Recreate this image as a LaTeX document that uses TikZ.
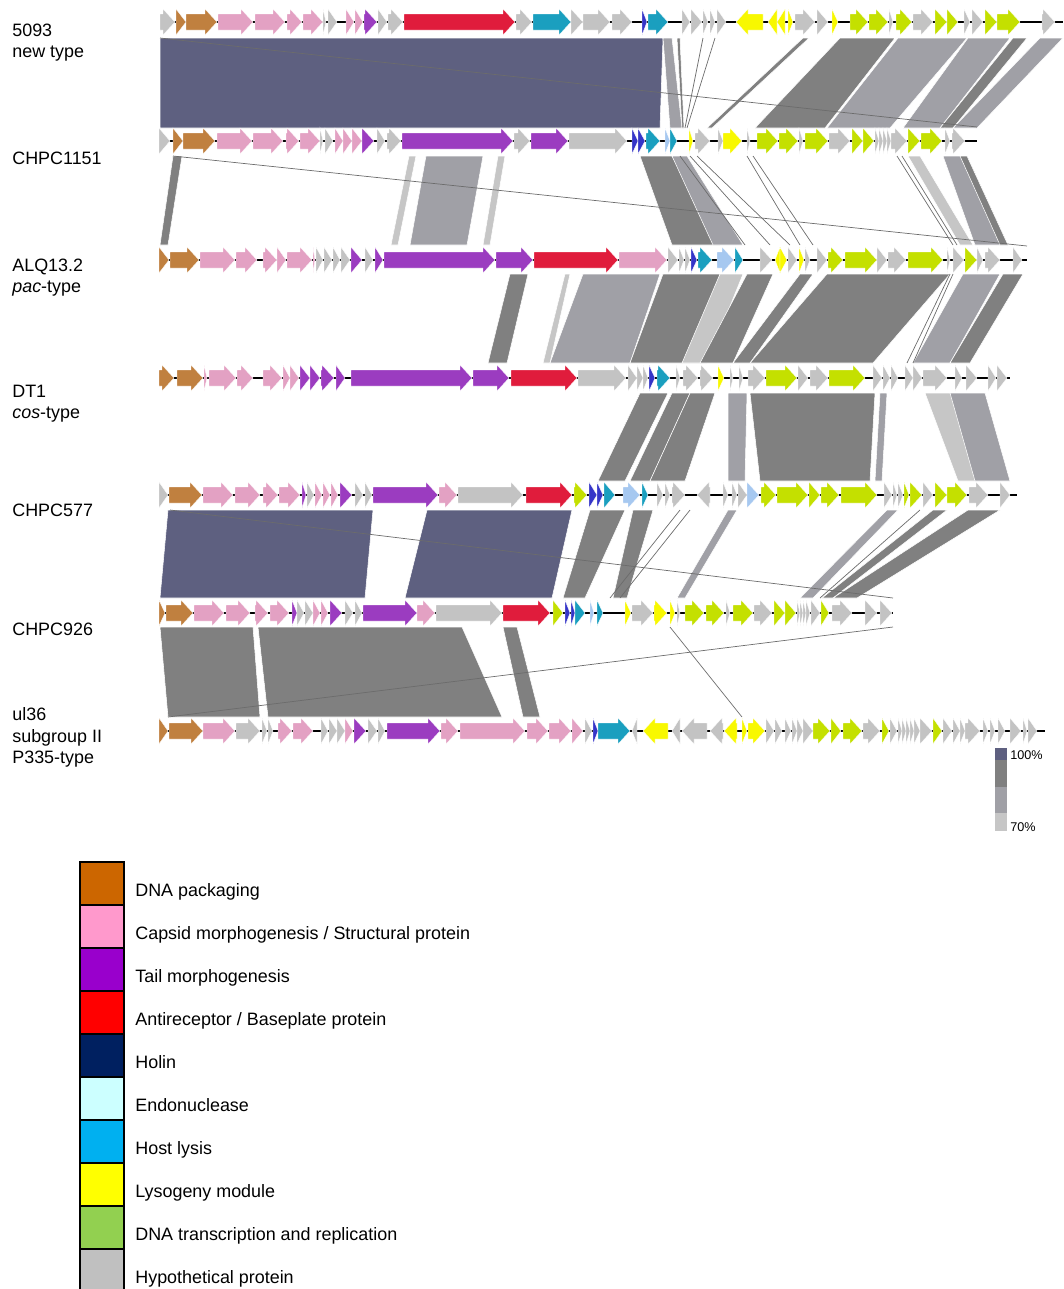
\documentclass[tikz,border=0pt]{standalone}
\usepackage{fontspec}
\setmainfont{Liberation Sans}
\definecolor{pkg}{HTML}{C0803F}
\definecolor{cap}{HTML}{E3A1C3}
\definecolor{tail}{HTML}{9B3CC0}
\definecolor{anti}{HTML}{E01C3C}
\definecolor{hol}{HTML}{3535C8}
\definecolor{endo}{HTML}{A6C8F0}
\definecolor{lys}{HTML}{1A9FBF}
\definecolor{lyso}{HTML}{F8F800}
\definecolor{rep}{HTML}{C4E000}
\definecolor{hyp}{HTML}{C3C3C3}
\definecolor{s100}{HTML}{5E6080}
\definecolor{s90}{HTML}{808080}
\definecolor{s80}{HTML}{A0A0A6}
\definecolor{s70}{HTML}{C6C6C6}
\definecolor{kpkg}{HTML}{CC6600}
\definecolor{kcap}{HTML}{FF99CC}
\definecolor{ktail}{HTML}{9900CC}
\definecolor{kanti}{HTML}{FF0000}
\definecolor{khol}{HTML}{002060}
\definecolor{kendo}{HTML}{CCFFFF}
\definecolor{klys}{HTML}{00B0F0}
\definecolor{klyso}{HTML}{FFFF00}
\definecolor{krep}{HTML}{92D050}
\definecolor{khyp}{HTML}{C0C0C0}
% gene arrow: from, to, colour, track y
\newcommand{\gene}[4]{%
  \pgfmathsetmacro\gdir{#2>#1 ? 1 : -1}%
  \pgfmathsetmacro\ghd{min(12,abs(#2-#1))}%
  \pgfmathsetmacro\gbase{#2-\gdir*\ghd}%
  \filldraw[gene,fill=#3] (#1,#4-8) -- (\gbase,#4-8) -- (\gbase,#4-13) -- (#2,#4)
    -- (\gbase,#4+13) -- (\gbase,#4+8) -- (#1,#4+8) -- cycle;}
\begin{document}
\begin{tikzpicture}[x=0.02cm,y=-0.02cm,
  gene/.style={draw=white,line width=0.2pt},
  backbone/.style={line width=1.6pt,black},
  band/.style={draw=white,line width=0.3pt},
  simline/.style={draw=gray!85!black,line width=0.4pt},
  lab/.style={anchor=base west,inner sep=0pt,font=\fontsize{10.2}{12}\selectfont},
  keybox/.style={draw=black,line width=0.6pt},
  keytext/.style={anchor=base west,inner sep=0pt,font=\fontsize{10.2}{12}\selectfont},
  pct/.style={anchor=base west,inner sep=0pt,font=\fontsize{7.2}{8}\selectfont}]
  \useasboundingbox (0,0) rectangle (1063,1289);

  % similarity bands
  \foreach \p/\q/\r/\s/\c in {160/663/160/660/s100, 663/672/670/682/s80, 677/680/682/684/s90,
    803/809/707/712/s90, 840/895/755/825/s90, 898/967/827/890/s80, 968/1010/903/940/s80,
    1013/1027/940/953/s90, 1040/1063/953/977/s80}
    \filldraw[band,fill=\c] (\p,38) -- (\q,38) -- (\s,128) -- (\r,128) -- cycle;
  \foreach \p/\q/\r/\s/\c in {173/182/160/168/s90, 409/416/391/398/s70, 426/483/410/467/s80,
    498/505/483/490/s70, 640/672/672/720/s90, 672/687/713/743/s80, 908/920/960/973/s70,
    943/967/975/1008/s80, 960/967/1000/1008/s90}
    \filldraw[band,fill=\c] (\p,156) -- (\q,156) -- (\s,245) -- (\r,245) -- cycle;
  \foreach \p/\q/\r/\s/\c in {510/528/488/507/s90, 565/570/543/550/s70, 583/660/550/630/s80,
    663/720/630/700/s90, 720/743/682/707/s70, 747/773/700/733/s90, 800/813/733/750/s90,
    827/950/750/873/s90, 963/1000/913/950/s80, 1003/1023/950/970/s90}
    \filldraw[band,fill=\c] (\p,274) -- (\q,274) -- (\s,363) -- (\r,363) -- cycle;
  \foreach \p/\q/\r/\s/\c in {640/668/598/625/s90, 672/690/630/650/s90, 690/715/650/685/s90,
    728/747/728/745/s80, 750/875/760/870/s90, 880/887/875/882/s80, 925/955/958/985/s70,
    950/985/975/1010/s80}
    \filldraw[band,fill=\c] (\p,393) -- (\q,393) -- (\s,481) -- (\r,481) -- cycle;
  \foreach \p/\q/\r/\s/\c in {168/373/160/365/s100, 427/572/405/552/s100, 590/625/563/585/s90,
    633/653/613/627/s90, 728/737/677/685/s80, 887/898/800/813/s80, 933/947/822/833/s90,
    968/1000/833/857/s90}
    \filldraw[band,fill=\c] (\p,510) -- (\q,510) -- (\s,598) -- (\r,598) -- cycle;
  \foreach \p/\q/\r/\s/\c in {160/253/168/260/s90, 258/462/268/502/s90, 503/517/523/540/s90}
    \filldraw[band,fill=\c] (\p,627) -- (\q,627) -- (\s,717) -- (\r,717) -- cycle;

  % thin matches
  \draw[simline] (160,38) -- (977,127);
  \draw[simline] (703,38) -- (685,128) (715,38) -- (687,128);
  \draw[simline] (173,156) -- (1027,246);
  \draw[simline] (680,156) -- (745,245) (690,156) -- (770,245) (697,156) -- (790,245);
  \draw[simline] (747,156) -- (800,245) (753,156) -- (813,245);
  \draw[simline] (897,156) -- (953,245) (902,156) -- (957,245);
  \draw[simline] (950,274) -- (907,363) (953,274) -- (913,363);
  \draw[simline] (170,510) -- (893,598);
  \draw[simline] (680,510) -- (610,598) (690,510) -- (620,598) (920,510) -- (820,598);
  \draw[simline] (168,717) -- (893,627);
  \draw[simline] (670,627) -- (742,717);

  % genome backbones
  \foreach \y/\e in {22/1063, 141/977, 260/1027, 378/1010, 495/1017, 613/893, 731/1045}
    \draw[backbone] (160,\y) -- (\e,\y);

  % 5093
  \foreach \a/\b/\c in {160/175/hyp, 176/186/pkg, 186/217/pkg, 218/253/cap, 255/285/cap,
    287/302/cap, 303/323/cap, 323/326/hyp, 328/337/hyp, 346/354/cap, 355/363/cap, 364/377/tail,
    378/387/hyp, 388/403/hyp, 404/515/anti, 516/532/hyp, 533/571/lys, 571/583/hyp, 583/610/hyp,
    612/632/hyp, 642/647/hol, 648/668/lys, 682/690/hyp, 691/702/hyp, 703/708/hyp, 710/715/hyp,
    717/726/hyp, 763/736/lyso, 777/768/lyso, 785/777/lyso, 788/793/lyso, 795/815/hyp,
    817/828/hyp, 832/838/lyso, 850/868/rep, 869/888/rep, 889/893/hyp, 896/912/rep, 913/933/hyp,
    935/947/rep, 947/958/rep, 964/970/hyp, 972/983/hyp, 985/997/rep, 997/1020/rep, 1042/1055/hyp}
    {\gene{\a}{\b}{\c}{22}}
  % CHPC1151
  \foreach \a/\b/\c in {159/170/hyp, 173/183/pkg, 183/215/pkg, 217/252/cap, 253/283/cap,
    286/299/cap, 300/320/cap, 320/323/hyp, 325/333/hyp, 335/343/cap, 343/352/cap, 352/362/cap,
    362/374/tail, 377/385/hyp, 387/401/hyp, 402/513/tail, 514/530/hyp, 531/568/tail, 569/627/hyp,
    632/638/hol, 638/645/hol, 646/660/lys, 665/670/endo, 670/677/lys, 689/693/lyso, 695/710/hyp,
    718/723/hyp, 723/742/lyso, 747/750/hyp, 757/778/rep, 779/798/rep, 799/803/hyp, 805/828/rep,
    829/850/hyp, 852/863/rep, 863/874/rep, 875/879/hyp, 879/883/hyp, 883/887/hyp, 887/891/hyp,
    891/907/hyp, 908/920/rep, 921/942/rep, 945/950/hyp, 952/965/hyp}
    {\gene{\a}{\b}{\c}{141}}
  % ALQ13.2
  \foreach \a/\b/\c in {159/169/pkg, 170/199/pkg, 200/235/cap, 236/257/cap, 263/277/cap,
    277/286/cap, 287/312/cap, 313/315/cap, 316/323/hyp, 324/332/hyp, 333/340/hyp, 341/350/hyp,
    351/362/tail, 365/373/hyp, 375/383/tail, 384/495/tail, 496/533/tail, 534/618/anti,
    619/667/cap, 668/678/hyp, 679/684/hyp, 685/690/hyp, 691/697/hol, 698/712/lys, 717/734/endo,
    735/743/lys, 760/772/hyp, 780/775/lyso, 780/787/lyso, 788/797/hyp, 799/804/lyso, 805/810/hyp,
    817/827/hyp, 828/843/rep, 845/877/rep, 877/887/hyp, 888/906/hyp, 908/943/rep, 947/950/hyp,
    953/964/hyp, 965/977/rep, 977/983/hyp, 985/1000/hyp, 1013/1022/hyp}
    {\gene{\a}{\b}{\c}{260}}
  % DT1
  \foreach \a/\b/\c in {159/174/pkg, 177/203/pkg, 204/207/cap, 209/236/cap, 237/253/cap,
    263/282/cap, 283/290/cap, 290/299/cap, 300/310/tail, 310/320/tail, 321/334/tail, 336/345/tail,
    351/472/tail, 473/509/tail, 511/577/anti, 578/626/hyp, 628/637/hyp, 637/643/hyp, 643/648/hyp,
    649/655/hol, 657/670/lys, 676/680/hyp, 683/698/hyp, 700/713/hyp, 718/724/lyso, 730/733/hyp,
    739/743/hyp, 748/765/hyp, 766/797/rep, 798/808/hyp, 810/828/hyp, 829/865/rep, 873/882/hyp,
    883/890/hyp, 891/898/hyp, 905/913/hyp, 913/922/hyp, 923/947/hyp, 955/962/hyp, 966/977/hyp,
    988/996/hyp, 997/1007/hyp}
    {\gene{\a}{\b}{\c}{378}}
  % CHPC577
  \foreach \a/\b/\c in {159/168/hyp, 169/202/pkg, 203/233/cap, 235/260/cap, 263/278/cap,
    279/300/cap, 302/306/tail, 307/314/hyp, 315/322/cap, 323/330/cap, 331/338/cap, 340/352/tail,
    355/363/hyp, 365/372/hyp, 373/438/tail, 439/457/cap, 458/523/hyp, 526/572/anti, 574/587/rep,
    589/597/hol, 597/603/hol, 604/615/lys, 623/640/endo, 642/648/lys, 657/663/hyp, 665/670/hyp,
    672/685/hyp, 710/697/hyp, 723/728/hyp, 732/737/hyp, 738/747/hyp, 747/759/endo, 761/776/rep,
    777/808/rep, 809/820/rep, 821/839/rep, 841/877/rep, 884/892/hyp, 893/897/hyp, 898/903/hyp,
    904/909/rep, 910/922/rep, 923/933/hyp, 935/947/rep, 947/967/rep, 969/988/hyp, 1000/1010/hyp}
    {\gene{\a}{\b}{\c}{495}}
  % CHPC926
  \foreach \a/\b/\c in {159/165/pkg, 166/193/pkg, 194/224/cap, 226/250/cap, 255/268/cap,
    270/289/cap, 292/297/tail, 297/304/hyp, 305/313/hyp, 313/320/cap, 321/328/cap, 330/342/tail,
    345/353/hyp, 355/362/hyp, 363/417/tail, 417/435/cap, 436/502/hyp, 503/550/anti, 553/563/rep,
    565/570/hol, 571/575/hol, 575/585/lys, 590/594/endo, 597/603/lys, 625/631/lyso, 632/653/hyp,
    654/667/lyso, 670/675/lyso, 677/680/hyp, 685/704/rep, 706/724/rep, 726/730/hyp, 733/753/rep,
    754/772/hyp, 774/785/rep, 785/796/rep, 797/800/hyp, 800/803/hyp, 803/806/hyp, 806/810/hyp,
    811/820/hyp, 821/829/rep, 832/852/hyp, 865/877/hyp, 880/892/hyp}
    {\gene{\a}{\b}{\c}{613}}
  % ul36
  \foreach \a/\b/\c in {159/168/pkg, 169/203/pkg, 203/235/cap, 236/260/hyp, 262/267/hyp,
    268/273/hyp, 278/292/cap, 293/313/cap, 321/328/hyp, 329/337/hyp, 337/345/hyp, 345/353/cap,
    354/366/tail, 368/377/hyp, 378/385/hyp, 387/440/tail, 441/458/cap, 460/525/cap, 527/548/cap,
    549/571/cap, 572/583/cap, 585/592/hyp, 593/598/hol, 598/630/lys, 637/632/hyp, 668/643/lyso,
    680/672/hyp, 707/682/hyp, 723/710/hyp, 737/724/lyso, 742/747/lyso, 748/765/lyso, 766/774/hyp,
    775/782/hyp, 785/791/hyp, 792/797/hyp, 797/803/hyp, 803/813/hyp, 813/830/rep, 831/841/rep,
    843/862/rep, 863/880/hyp, 882/889/rep, 890/897/hyp, 898/902/hyp, 902/906/hyp, 906/910/hyp,
    910/914/hyp, 914/920/hyp, 920/932/hyp, 933/942/rep, 943/952/hyp, 953/960/hyp, 960/965/hyp,
    965/980/hyp, 983/988/hyp, 990/995/hyp, 998/1005/hyp, 1010/1021/hyp, 1023/1027/hyp,
    1028/1037/hyp}
    {\gene{\a}{\b}{\c}{731}}

  % genome names
  \node[lab] (n5093) at (12,36) {5093};
  \node[lab] (t5093) at (12,57) {new type};
  \node[lab] (n1151) at (12,164) {CHPC1151};
  \node[lab] (nalq) at (12,271) {ALQ13.2};
  \node[lab] (talq) at (12,292) {\textit{pac}-type};
  \node[lab] (ndt1) at (12,397) {DT1};
  \node[lab] (tdt1) at (12,418) {\textit{cos}-type};
  \node[lab] (n577) at (12,516) {CHPC577};
  \node[lab] (n926) at (12,635) {CHPC926};
  \node[lab] (nul36) at (12,720) {ul36};
  \node[lab] (gul36) at (12,742) {subgroup II};
  \node[lab] (tul36) at (12,763) {P335-type};

  % identity scale
  \fill[s100] (995,748) rectangle (1007,760);
  \fill[s90] (995,760) rectangle (1007,787);
  \fill[s80] (995,787) rectangle (1007,813);
  \fill[s70] (995,813) rectangle (1007,831);
  \node[pct] (p100) at (1010,759) {100\%};
  \node[pct] (p70) at (1010,831) {70\%};

  % legend
  \foreach \c/\t [count=\i from 0] in {kpkg/{DNA packaging},
    kcap/{Capsid morphogenesis / Structural protein}, ktail/{Tail morphogenesis},
    kanti/{Antireceptor / Baseplate protein}, khol/{Holin}, kendo/{Endonuclease},
    klys/{Host lysis}, klyso/{Lysogeny module}, krep/{DNA transcription and replication},
    khyp/{Hypothetical protein}}
  {
    \filldraw[keybox,fill=\c] (80,862+43*\i) rectangle (124,905+43*\i);
    \node[keytext] (key\i) at (135,896+43*\i) {\t};
  }
\end{tikzpicture}
\end{document}
